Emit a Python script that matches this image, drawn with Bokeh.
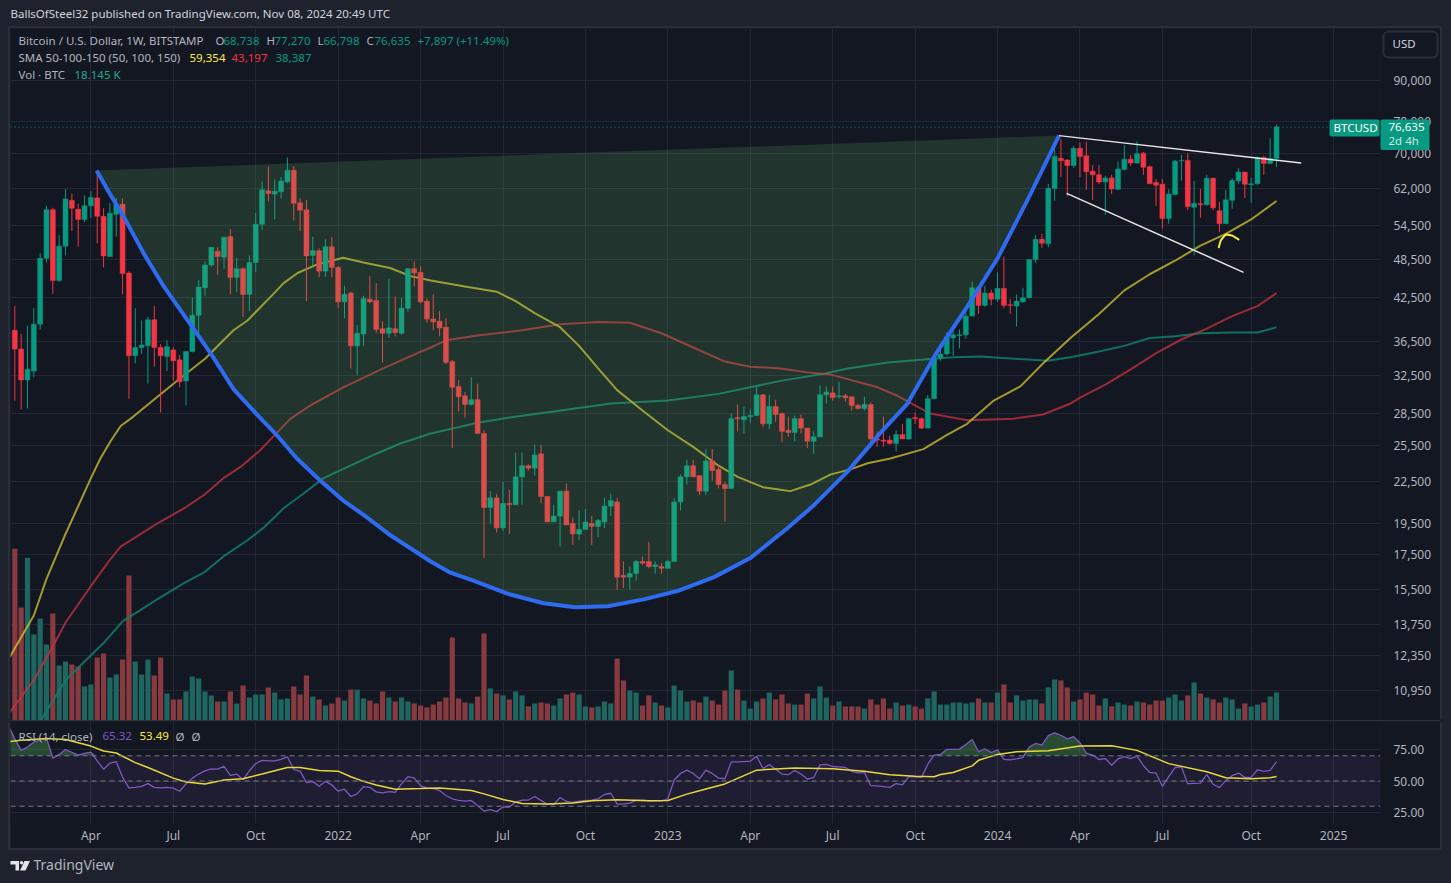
import numpy as np
from bokeh.embed import file_html
from bokeh.layouts import column
from bokeh.models import (BoxAnnotation, FixedTicker, GlobalInlineStyleSheet, Label, LinearScale,
                          NumeralTickFormatter, Range1d, Span)
from bokeh.plotting import figure
from bokeh.resources import INLINE

# ---- weekly OHLC, thousand USD, first week = 2021-01-11 ----
open_k = [38.0,35.6,32.0,33.0,38.8,48.7,57.6,45.1,50.8,59.5,
57.7,55.7,58.4,60.0,56.3,49.0,56.7,58.7,46.3,34.8,
35.8,36.0,39.4,35.8,34.7,35.5,34.3,31.9,35.3,40.0,
44.0,47.6,49.9,48.9,52.5,45.6,47.0,43.0,48.0,54.8,
61.5,60.8,61.3,63.4,66.0,59.0,57.6,49.2,50.0,46.6,
50.7,47.2,41.9,43.2,36.0,37.5,42.3,42.1,38.2,37.6,
38.2,37.6,41.0,47.0,46.4,42.0,39.5,39.2,38.4,34.1,
31.3,30.3,29.4,29.9,26.6,20.6,21.3,19.2,20.9,20.8,
22.9,23.8,23.6,24.8,21.4,19.6,20.0,21.8,19.5,18.8,
19.1,19.5,19.3,19.6,20.7,21.0,16.3,16.2,16.4,17.1,
17.1,16.8,16.8,16.7,17.1,21.0,22.9,23.8,23.0,21.8,
24.2,23.5,22.3,22.0,28.1,27.9,28.2,28.3,30.4,27.5,
29.2,28.5,26.9,26.7,28.0,27.1,25.9,26.3,30.4,30.6,
30.2,30.3,30.2,29.3,29.0,29.4,26.1,26.0,26.0,25.7,
26.5,26.1,28.1,28.0,27.1,30.0,34.5,35.0,37.0,37.3,
37.4,39.9,44.0,41.4,43.2,42.3,43.9,41.5,41.3,41.9,
42.5,48.5,52.0,51.2,62.0,68.8,68.4,67.1,71.2,69.4,
65.8,65.0,63.4,64.3,61.8,66.2,68.6,67.7,70.0,66.8,
63.3,62.9,55.9,60.7,68.2,68.3,58.1,58.8,58.6,64.2,
57.4,54.9,59.5,63.6,65.6,62.8,63.0,69.0,67.6,68.738]
high_k = [41.3,37.5,38.6,41.0,49.6,58.4,58.0,52.8,61.9,60.9,
58.8,60.5,61.4,65.0,57.9,58.9,60.0,59.9,46.6,41.0,
39.3,39.8,41.3,36.2,36.7,35.8,34.9,35.3,42.5,45.2,
48.2,50.6,50.6,52.4,53.9,48.8,47.2,49.2,57.0,63.5,
66.9,64.0,64.5,69.0,67.0,60.0,59.6,52.5,50.4,52.0,
52.4,47.4,44.3,43.4,38.7,42.8,45.8,44.7,39.2,45.4,
42.7,42.5,47.0,48.2,47.4,42.4,43.0,40.6,39.6,34.3,
32.0,30.7,32.3,31.6,26.9,21.8,21.6,22.5,21.9,24.9,
24.9,23.9,25.6,25.6,21.4,20.8,21.8,22.4,19.9,20.4,
20.5,20.0,19.8,21.3,21.6,21.3,17.1,16.8,17.2,17.4,
18.3,17.1,17.0,17.2,21.3,23.1,24.3,24.3,23.0,25.2,
25.2,23.9,22.5,28.5,29.4,29.2,28.9,31.2,30.5,30.4,
29.9,28.6,28.2,28.3,28.4,27.1,26.8,31.4,31.3,31.3,
31.8,30.5,30.2,29.5,30.2,29.6,26.8,28.2,26.4,26.9,
27.5,28.0,28.6,28.1,30.4,35.0,36.0,37.7,37.9,38.1,
41.0,44.9,44.3,44.3,43.7,46.4,49.0,42.3,43.0,44.0,
48.5,52.8,53.0,63.0,71.0,73.5,68.6,71.8,72.6,72.8,
67.2,67.2,64.8,65.0,68.0,72.0,69.6,72.9,70.3,67.1,
64.0,64.0,61.8,68.4,69.6,70.0,63.6,61.9,65.0,64.4,
59.2,61.7,64.2,66.5,65.6,64.3,69.2,69.4,73.7,77.27]
low_k = [29.8,28.9,29.0,32.3,38.1,48.0,43.1,44.9,49.2,53.5,
50.7,55.2,56.0,51.3,47.2,49.0,52.5,43.0,30.0,33.9,
35.0,31.6,33.5,28.6,33.0,31.9,31.2,29.3,35.2,37.0,
42.8,47.3,46.0,47.0,43.0,43.4,39.8,40.6,46.5,53.7,
59.3,55.7,59.9,63.1,55.5,53.5,42.0,47.4,45.6,45.7,
45.6,41.0,39.6,33.3,32.5,36.0,41.7,37.6,34.0,37.0,
37.2,37.4,40.5,44.2,41.7,39.0,38.0,37.2,33.8,25.3,
28.7,28.1,29.3,26.6,17.3,19.5,18.9,19.0,18.8,20.8,
20.8,23.4,23.0,20.9,19.6,19.6,18.0,19.4,18.1,18.4,
19.1,18.1,18.6,19.2,20.0,15.5,15.6,15.5,16.0,16.9,
16.7,16.4,16.4,16.7,17.1,20.4,22.3,22.9,21.5,21.5,
22.6,22.0,19.6,22.0,26.8,26.6,27.6,28.3,27.2,27.0,
27.7,25.8,26.3,25.9,26.6,25.3,24.8,26.3,29.5,29.8,
30.0,29.7,28.8,28.9,28.8,25.6,25.4,25.4,25.6,25.0,
26.1,26.0,27.5,27.0,27.1,30.0,34.2,34.8,34.8,35.7,
36.9,39.9,40.2,41.2,41.4,41.9,41.0,40.2,38.5,41.8,
42.4,47.9,50.5,50.6,59.4,64.5,60.3,66.6,64.5,61.7,
59.6,62.9,56.6,60.8,61.6,66.0,67.0,67.5,65.0,63.0,
58.4,54.0,54.9,60.5,63.7,57.5,49.2,56.0,58.4,57.5,
53.3,54.8,57.8,63.0,60.0,59.0,62.8,65.0,67.4,66.798]
close_k = [35.6,32.0,33.2,38.8,48.7,57.6,45.1,50.8,59.8,57.9,
55.7,58.4,60.1,56.3,49.1,56.9,58.7,46.2,34.8,35.8,
36.1,39.4,35.8,34.8,35.9,34.2,31.8,35.3,40.0,44.1,
47.6,50.6,49.0,52.4,45.6,47.0,43.0,48.0,54.8,61.7,
60.9,61.4,63.6,66.0,58.9,57.5,49.1,50.0,46.6,50.7,
47.2,41.9,43.0,36.0,37.6,42.4,41.9,38.1,37.6,38.3,
37.7,41.0,47.0,46.3,41.9,39.5,39.1,38.3,34.0,31.2,
30.2,29.4,29.9,26.6,20.6,21.3,19.2,20.9,20.8,22.9,
23.8,23.6,24.7,21.4,19.6,20.0,21.8,19.4,18.8,19.1,
19.6,19.3,19.7,20.7,21.1,16.2,16.2,16.4,17.1,17.0,
16.8,16.9,16.7,17.1,21.0,22.9,23.8,22.9,21.8,24.2,
23.4,22.3,22.0,28.0,28.0,28.2,28.3,30.4,27.5,29.2,
28.4,26.8,26.7,28.0,27.1,25.9,26.3,30.4,30.7,30.1,
30.3,30.1,29.3,29.0,29.4,26.1,26.0,25.9,25.7,26.5,
26.1,28.0,28.0,27.1,30.0,34.5,35.0,37.1,37.4,37.4,
39.9,44.0,41.4,43.2,42.3,43.9,41.4,41.4,42.0,42.5,
48.5,52.0,51.3,62.0,69.2,68.2,67.1,71.2,69.2,65.7,
65.0,63.4,64.3,61.9,66.3,68.6,67.7,69.9,66.7,63.0,
62.7,55.9,60.8,68.1,68.3,58.2,58.9,58.6,64.2,58.0,
54.9,59.6,63.7,65.6,62.9,63.0,69.0,67.6,68.8,76.635]
volume_k = [108.1,71.3,102.4,54.4,64.5,48.2,67.6,35,37.5,35.7,
34.4,21.9,23.2,40,42.6,27.5,29.4,38.8,91.4,37.5,
29.4,38.8,28.8,40,17.5,13.8,13.8,18.8,28.2,26.9,
18.8,16.3,12.5,12.5,18.8,11.3,22.5,15,16.9,16.9,
21.3,18.1,13.8,14.4,21.9,16.9,28.8,15.6,13.8,10,
11.3,15,13.1,20,20,14.4,13.1,11.3,18.8,15,
12.5,15,12.5,11.3,10,8.8,10.6,12.5,15,52.6,
14.4,11.9,11.3,15.6,55.1,20.7,17.5,16.3,13.8,18.8,
16.3,9.4,11.3,11.9,11.3,10,14.4,16.9,18.1,16.9,
9.4,8.8,9.4,12.5,11.3,39.4,25.7,19.4,18.1,10,
16.3,11.9,10,8.8,22.5,19.4,12.5,13.1,11.9,15.6,
13.1,10.6,19.4,31.9,20,13.1,8.1,12.5,14.4,18.1,
13.8,16.9,11.3,10.6,10.6,17.5,14.4,21.9,15,10,
12.5,9.4,9.4,9.4,8.1,13.8,10.6,14.4,8.1,11.9,
10,10.6,9.4,8.1,14.4,18.8,10.6,10.6,11.9,11.9,
11.3,11.9,14.4,11.9,11.9,18.1,23.2,11.9,16.3,13.1,
13.8,13.8,11.3,21.3,26.3,25.7,21.3,12.5,13.8,18.1,
16.9,10,14.4,9.4,11.9,10.6,10,12.5,11.9,10.6,
13.1,13.1,15,16.9,13.1,16.3,24.4,17.5,15,13.8,
11.9,15,13.8,8.1,11.3,9.4,10.6,11.9,15.6,18.145]
# RSI, first value belongs to the week before the first candle
rsi_values = [93.9,
83.4,74.3,76.9,80.8,82.9,84.2,68,71.1,75,72.7,
70.6,71.9,73,65.9,59.4,64.1,65.4,52.9,44.5,45,
45.8,47.9,45,44.5,45,44.3,41.9,47.7,52.3,55.5,
58.1,59.7,59.4,61.7,54.4,55.5,51,58.1,63.8,66.4,
65.9,65.9,67.2,69.1,59.1,57.8,48.7,49.5,45.8,49.7,
46.9,41.9,43.5,37.7,39.8,45.6,45,41.4,40.6,41.6,
41.1,47.7,53.4,52.3,46.3,44.3,44,42.4,38.5,35.9,
34.6,34.1,34.6,30.4,26.2,27.3,25.7,29.4,29.4,33.3,
34.9,34.9,37.7,34.6,31.5,31.5,36.9,33.8,33,34.1,
34.6,34.9,35.9,39.3,40.3,31.7,31.7,32.5,34.6,34.9,
34.3,34.3,34.3,35.9,50.8,56,58.6,56,51.8,58.6,
56,52.3,51.8,65.1,65.1,65.4,65.7,69.6,59.9,63,
59.4,55.5,55,58.4,55.5,51.6,52.6,62.8,63.1,61.5,
61.2,60.7,57.6,56.5,56.8,46.3,46.1,45.6,45,47.9,
46.9,53.4,53.1,52.9,63.3,70.6,71.1,75.1,75.1,75.3,
79,82.9,73.2,75.6,72.5,74.8,67.2,66.7,67.5,68.5,
76.9,79.8,78.5,86,88.1,86.3,83.4,85.2,80.3,72.2,
70.6,67,67.8,62.5,67.5,69.3,67.8,69.8,62.3,56.8,
56.3,45.8,53.4,60.7,61.2,47.9,48.2,48.4,55,47.4,
44.8,50.3,54.2,56.3,52.9,52.9,58.9,57.6,58.4,65.32]
rsi_ma_week = [-1,1,5,8,12,14,16,19,21,25,27,30,33,36,39,43,45,48,51,53,55,57,60,64,67,72,74,77,80,84,88,91,95,100,103,106,109,112,117,123,129,134,138,142,145,146,148,151,152,155,158,163,168,173,177,182,188,191,195,198,199]
rsi_ma = [81.1,82.4,83.7,82.9,77.7,73.8,72.2,64.6,60.7,52.3,49.2,47.7,50.8,51.8,55.5,60.7,60.7,58.4,57.8,53.4,49.7,46.9,43.5,44,44.5,42.4,39.8,35.4,32.2,31.7,32.5,34.3,35.1,34.3,34.6,39.6,43.7,47.7,58.6,60.4,59.7,57.8,55,53.7,53.4,55.2,56.8,62,66.4,71.1,73.2,74,77.7,77.9,74.3,63.8,57.3,52.6,51.8,52.6,53.49]

sma50_week = [-1,3,5,8,10,12,13.5,15.1,16.7,18.7,22.5,26.1,30.1,32.9,34.5,36.7,40.3,42.4,44.6,47.7,51.8,55,59.2,62.4,65.6,71,76,79,82,86,89,92,95,99,103,107,111,114,118,120.8,122.3,125.5,128.7,131.8,134.5,138.1,143.3,147.1,150.2,154.4,158.6,162.2,166.5,171,175,179,183,187,191,195,199]
sma50_k = [12.2,14.19,16.1,18.8,20.7,22.8,24.4,25.9,27.3,28.2,30.2,32.2,34.5,36.7,38,39.3,42.6,44.7,46.3,47.7,48.8,48,47.1,45.8,45.1,44.2,43.4,42,40.3,38.4,36,33.3,30.9,28.8,26.9,25.4,23.8,22.9,22.1,21.9,21.8,22.3,23.1,23.5,24,24.4,25.2,26.5,27.5,29.8,31.3,33.9,37,40.2,43.6,46.1,48.3,50.9,53,55.7,59.354]
sma100_week = [-1,3,6,8,12,14.6,16.7,22.5,26.9,29.8,32.9,35.6,38.7,41.4,43.5,46.6,51.8,58.1,63.5,65.6,68,73,80,86,92,97,102,107,112,116,120.8,125,128.7,136.1,139.2,144.4,150.2,157.5,162.2,166.5,168,172,176,180,184,188,192,196,199]
sma100_k = [10.1,11.35,12.75,13.85,15.7,17,18,19.5,20.6,21.5,22.8,23.7,25.1,26.7,28,29.3,31.2,33.3,35.1,35.8,36.7,37.3,38,38.8,39.1,39,37.6,35.8,34.1,33.5,33.3,32.85,32.6,31.2,30.3,28.5,27.85,28,28.4,29.5,30.1,31.5,33.2,35.1,36.8,38.2,39.9,41.3,43.197]
sma150_week = [4,8,10,14,17,22.2,26.6,29.8,32.9,36.7,39.2,42.4,45.5,48.7,52.5,57.2,60.8,65.6,73,78,85,94,103,111,120.8,127.6,131.4,137.7,144.4,148,152.3,158.6,162.9,166.5,171,175,179,183,187,192,196,199]
sma150_k = [9.84,11.35,11.85,12.9,13.9,14.95,15.85,16.45,17.4,18.4,19.2,20.55,21.6,22.8,23.7,24.85,25.7,26.6,27.6,28.1,28.7,29.5,29.8,30.5,31.9,32.7,33.3,34,34.4,34.6,34.7,34.4,34.2,34.6,35.3,36,37,37.2,37.6,37.7,37.7,38.387]

cup_week = [12.9,15.1,17.2,20.35,23.5,28,30.9,34.5,38.2,41.4,44.5,48.2,51.8,55.6,59.3,62.4,65.6,68.7,72,75,77.7,83.4,88.4,93.5,99.2,104.8,110.3,116,121.8,126,131.3,136.6,140.8,145.5,150.2,155,159.7,164.7]
cup_k = [65.96,60.6,56.2,49.5,44.2,38.4,35.07,31,28.4,26.4,24.4,22.6,21.1,19.9,18.7,17.9,17.1,16.45,16.05,15.65,15.3,14.8,14.6,14.65,15,15.47,16.2,17.3,19.16,20.75,23.3,26.7,29.5,35.3,41.2,48.7,59.5,74.4]
upper_trend_week, upper_trend_k = [164.7, 202.9], [74.4, 67.7]
lower_trend_week, lower_trend_k = [165.9, 193.8], [60.96, 46.4]
squiggle_week = [189.9,190.2,191,192,193]
squiggle_k = [50.6,51.8,52.9,52.7,52.0]

price_ticks = [10950,12350,13750,15500,17500,19500,22500,25500,28500,32500,36500,42500,48500,54500,62000,70000,78000,90000]
rsi_ticks = [25,50,75]
time_tick_week = [12,25,38,51,64,77,90,103,116,129,142,155,168,181,195,208]
time_tick_text = ["Apr","Jul","Oct","2022","Apr","Jul","Oct","2023","Apr","Jul","Oct","2024","Apr","Jul","Oct","2025"]

BG, PAGE, GRID, LINE = "#131722", "#1e222d", "#232733", "#2a2e39"
TXT, GREEN, RED = "#b2b5be", "#089981", "#f23645"
VOL_UP, VOL_DOWN = "#1f6560", "#883a41"
FONT = "Noto Sans"
assert len(open_k)==len(high_k)==len(low_k)==len(close_k)==len(volume_k)==200 and len(rsi_values)==201
assert len(sma50_week)==len(sma50_k) and len(sma100_week)==len(sma100_k) and len(sma150_week)==len(sma150_k)
assert len(cup_week)==len(cup_k) and len(rsi_ma_week)==len(rsi_ma)

week = np.arange(200)
o, c = np.array(open_k)*1000, np.array(close_k)*1000
h = np.maximum(np.array(high_k)*1000, np.maximum(o, c))
l = np.minimum(np.array(low_k)*1000, np.minimum(o, c))
up = c >= o
x_range = Range1d(-0.678, 215.4)

main = figure(width=1430, height=693, output_backend="svg", toolbar_location=None, x_range=x_range,
              y_range=Range1d(9840, 107700), y_axis_type="log", y_axis_location="right",
              background_fill_color=BG, border_fill_color=BG, outline_line_color=None,
              min_border_left=0, min_border_right=60, min_border_top=0, min_border_bottom=0,
              margin=(0, 0, 0, 10), extra_y_ranges={"vol": Range1d(0, 433.6)},
              extra_y_scales={"vol": LinearScale()},
              styles={"box-shadow": f"-2px -2px 0 0 {LINE}, 2px -2px 0 0 {LINE}"})
main.xaxis.visible = False
main.xaxis.ticker = FixedTicker(ticks=time_tick_week)
main.yaxis.ticker = FixedTicker(ticks=price_ticks)
main.yaxis.formatter = NumeralTickFormatter(format="0,0")
main.yaxis.major_label_text_color = TXT
main.yaxis.major_label_text_font = FONT
main.yaxis.major_label_text_font_size = "12px"
main.yaxis.major_tick_line_color = None
main.yaxis.minor_tick_line_color = None
main.yaxis.axis_line_color = None
main.yaxis.major_label_standoff = 7
main.xgrid.grid_line_color = GRID
main.ygrid.grid_line_color = GRID
main.ygrid.minor_grid_line_color = None

vol = np.array(volume_k)
main.vbar(week[up], top=vol[up], bottom=0, width=0.82, fill_color=VOL_UP, line_color=None, y_range_name="vol")
main.vbar(week[~up], top=vol[~up], bottom=0, width=0.82, fill_color=VOL_DOWN, line_color=None, y_range_name="vol")
main.add_layout(Span(location=76635, dimension="width", line_color=GREEN, line_dash=[1, 3], line_width=1))
main.line(sma150_week, np.array(sma150_k)*1000, color="#0f7f6c", line_width=2, alpha=0.85)
main.line(sma100_week, np.array(sma100_k)*1000, color="#c9323f", line_width=2, alpha=0.75)
main.line(sma50_week, np.array(sma50_k)*1000, color="#d6c62f", line_width=2, alpha=0.75)
for mask, col in ((up, GREEN), (~up, RED)):
    main.segment(week[mask], l[mask], week[mask], h[mask], color=col, line_width=1)
    main.vbar(week[mask], top=np.maximum(o[mask], c[mask]), bottom=np.minimum(o[mask], c[mask]),
              width=0.78, color=col, line_width=0.5)
main.patch(cup_week, np.array(cup_k)*1000, fill_color="#66bb6a", fill_alpha=0.18, line_color=None)
main.line(cup_week, np.array(cup_k)*1000, color="#2f6bf0", line_width=4, line_join="round")
main.line(upper_trend_week, np.array(upper_trend_k)*1000, color="#e6e6e6", line_width=1.5)
main.line(lower_trend_week, np.array(lower_trend_k)*1000, color="#e6e6e6", line_width=1.5)
main.line(squiggle_week, np.array(squiggle_k)*1000, color="#ffeb3b", line_width=2, line_join="round", line_cap="round")

rsi = figure(width=1430, height=127, output_backend="svg", toolbar_location=None, x_range=x_range,
             y_range=Range1d(16.3, 97.2), y_axis_location="right",
             background_fill_color=BG, border_fill_color=BG, outline_line_color=None,
             min_border_left=0, min_border_right=60, min_border_top=0, min_border_bottom=25,
             margin=(0, 0, 0, 10),
             styles={"position": "relative", "z-index": "2",
                     "box-shadow": f"0 -1px 0 0 {LINE}, -2px 2px 0 0 {LINE}, 2px 2px 0 0 {LINE}"})
rsi.xaxis.ticker = FixedTicker(ticks=time_tick_week)
rsi.xaxis.major_label_overrides = {w: t for w, t in zip(time_tick_week, time_tick_text)}
rsi.yaxis.ticker = FixedTicker(ticks=rsi_ticks)
rsi.yaxis.formatter = NumeralTickFormatter(format="0.00")
for ax in (rsi.xaxis, rsi.yaxis):
    ax.major_label_text_color = TXT
    ax.major_label_text_font = FONT
    ax.major_label_text_font_size = "12px"
    ax.major_tick_line_color = None
    ax.minor_tick_line_color = None
    ax.axis_line_color = None
rsi.xaxis.major_tick_out = 0
rsi.xaxis.major_tick_in = 0
rsi.xaxis.major_label_standoff = 3
rsi.yaxis.major_label_standoff = 7
rsi.xgrid.grid_line_color = GRID
rsi.ygrid.grid_line_color = GRID
rsi.add_layout(BoxAnnotation(bottom=30, top=70, fill_color="#7e57c2", fill_alpha=0.1, line_color=None, level="underlay"))
for lv in (70, 50, 30):
    rsi.add_layout(Span(location=lv, dimension="width", line_color="#787b86", line_dash=[5, 4], line_width=1))
rsi_week = np.arange(-1, 200)
rsi_arr = np.array(rsi_values)
rsi.varea(rsi_week, y1=np.full(201, 70.0), y2=np.maximum(rsi_arr, 70), fill_color="#4caf50", fill_alpha=0.35)
rsi.line(rsi_week, rsi_arr, color="#7e57c2", line_width=1.3)
rsi.line(rsi_ma_week, rsi_ma, color="#e8d83a", line_width=1.5)


def lab(fig, text, X, Y, color=TXT, size=11.5, left=10, bottom=721, **kw):
    fig.add_layout(Label(text=text, x=X - left, y=bottom - Y, x_units="screen", y_units="screen",
                         text_color=color, text_font=FONT, text_font_size=f"{size}px",
                         text_baseline="middle", **kw))


for text, X, col in [("Bitcoin / U.S. Dollar, 1W, BITSTAMP", 18, TXT), ("O", 215, TXT), ("68,738", 223, GREEN),
                     ("H", 266, TXT), ("77,270", 274, GREEN), ("L", 317, TXT), ("66,798", 323, GREEN),
                     ("C", 366, TXT), ("76,635", 374, GREEN), ("+7,897 (+11.49%)", 417, GREEN)]:
    lab(main, text, X, 40, col)
for text, X, col in [("SMA 50-100-150 (50, 100, 150)", 18, TXT), ("59,354", 189, "#ffeb3b"),
                     ("43,197", 231, RED), ("38,387", 275, GREEN)]:
    lab(main, text, X, 57, col)
lab(main, "Vol · BTC", 18, 74)
lab(main, "18.145 K", 74, 74, "#22ab94")

for text, X, col in [("RSI (14, close)", 18, TXT), ("65.32", 102, "#7e57c2"), ("53.49", 139, "#ffeb3b"),
                     ("Ø", 175, TXT), ("Ø", 191, TXT)]:
    lab(rsi, text, X, 735.5, col, bottom=823)

header = figure(width=1450, height=28, output_backend="svg", toolbar_location=None,
                x_range=Range1d(0, 1450), y_range=Range1d(28, 0), x_axis_type=None, y_axis_type=None,
                background_fill_color=PAGE, border_fill_color=PAGE, outline_line_color=None,
                min_border=0)
header.add_layout(Label(text="BallsOfSteel32 published on TradingView.com, Nov 08, 2024 20:49 UTC", x=10, y=13,
                        text_color="#d1d4dc", text_font=FONT, text_font_size="11.5px", text_baseline="middle"))

footer = figure(width=1450, height=34, output_backend="svg", toolbar_location=None,
                x_range=Range1d(0, 1450), y_range=Range1d(882, 848), x_axis_type=None, y_axis_type=None,
                background_fill_color=PAGE, border_fill_color=PAGE, outline_line_color=None,
                min_border=0)
footer.patches([[10, 18.5, 18.5, 15, 15, 10], [24, 29.5, 25, 19.5]],
               [[860.5, 860.5, 870, 870, 864, 864], [860.5, 860.5, 870, 870]], color="#e3e4e8", line_width=0)
footer.circle([21], [862.2], radius=1.7, color="#e3e4e8", line_width=0)
footer.add_layout(Label(text="TradingView", x=33, y=863.5, text_color="#b2b5be", text_font=FONT,
                        text_font_size="14px", text_baseline="middle"))

# price badges sit over the axis strip, so they get a small transparent overlay of their own
badges = figure(width=116, height=128, output_backend="svg", toolbar_location=None,
                x_range=Range1d(1325, 1441), y_range=Range1d(156, 28), x_axis_type=None, y_axis_type=None,
                background_fill_alpha=0, border_fill_alpha=0, outline_line_color=None, min_border=0,
                styles={"position": "absolute", "left": "1325px", "top": "28px", "z-index": "10",
                        "width": "116px", "min-width": "116px", "height": "128px"})
badges.quad(left=[1383], right=[1437], top=[31], bottom=[57], fill_color=BG, line_color=LINE, line_width=2, border_radius=5)
badges.quad(left=[1329, 1380], right=[1379, 1429], top=[119, 119], bottom=[136, 149.5], fill_color=GREEN, line_color=None, border_radius=2)
for text, X, Y, col in [("USD", 1392, 43, "#d1d4dc"), ("BTCUSD", 1333, 127, "#ffffff"),
                        ("76,635", 1388, 126, "#ffffff"), ("2d 4h", 1388, 140, "#c8e8e2")]:
    badges.add_layout(Label(text=text, x=X, y=Y, text_color=col, text_font=FONT, text_font_size="11.5px", text_baseline="middle"))

root = column(header, column(main, rsi), footer, badges)
root.stylesheets = [GlobalInlineStyleSheet(css="html,body{background:#1e222d;}")]
open("out.html", "w").write(file_html(root, INLINE))
